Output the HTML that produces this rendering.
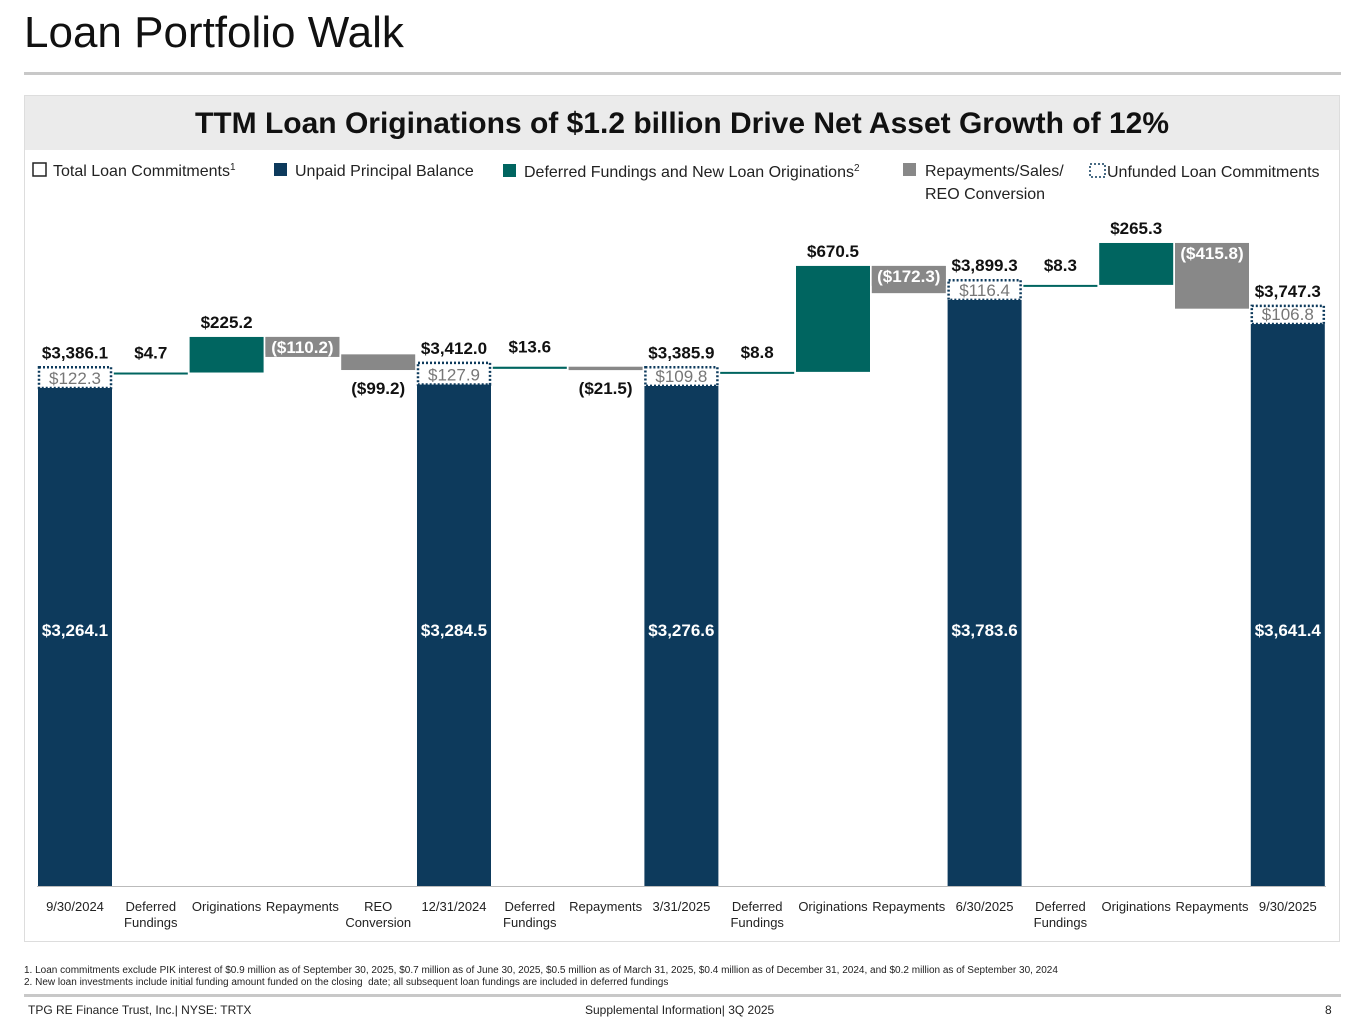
<!DOCTYPE html>
<html><head><meta charset="utf-8">
<style>
body{margin:0;width:1365px;height:1024px;background:#fff;font-family:"Liberation Sans Narrow","Liberation Sans",sans-serif;position:relative;overflow:hidden}
.t{position:absolute;white-space:nowrap}
</style></head><body>
<div class="t" style="left:24px;top:8px;font-size:44px;color:#111;font-family:'Liberation Sans',sans-serif">Loan Portfolio Walk</div>
<div style="position:absolute;left:24px;top:72px;width:1317px;height:3px;background:#c8c8c8"></div>
<div style="position:absolute;left:24px;top:95px;width:1316px;height:847px;border:1px solid #ddd;box-sizing:border-box"></div>
<div style="position:absolute;left:25px;top:96px;width:1314px;height:54px;background:#ebebeb;text-align:center;line-height:56px;font-size:30px;font-weight:bold;color:#111;font-family:'Liberation Sans',sans-serif">TTM Loan Originations of $1.2 billion Drive Net Asset Growth of 12%</div>
<svg width="1365" height="1024" style="position:absolute;left:0;top:0" id="chart" font-family="Liberation Sans Narrow, Liberation Sans, sans-serif">
 <g font-size="16" fill="#222">
  <g><rect x="33" y="163" width="13" height="13" fill="#fff" stroke="#222" stroke-width="1.5"/><text x="53" y="176">Total Loan Commitments<tspan font-size="10" dy="-6">1</tspan></text></g>
  <g><rect x="274" y="163" width="13" height="13" fill="#0d3a5c"/><text x="295" y="176">Unpaid Principal Balance</text></g>
  <g><rect x="503" y="164" width="13" height="13" fill="#006560"/><text x="524" y="177">Deferred Fundings and New Loan Originations<tspan font-size="10" dy="-6">2</tspan></text></g>
  <g><rect x="903" y="163" width="13" height="13" fill="#888"/><text x="925" y="176">Repayments/Sales/</text><text x="925" y="199">REO Conversion</text></g>
  <g><rect x="1090" y="164" width="15" height="13" fill="#fff" stroke="#0d3a5c" stroke-width="1.5" stroke-dasharray="2,2"/><text x="1107" y="177">Unfunded Loan Commitments</text></g>
 </g>
 <line x1="37" y1="886.5" x2="1326" y2="886.5" stroke="#bbb" stroke-width="1"/>
 <g id="marks"></g>
</svg>
<div class="t" style="left:24px;top:965px;font-size:10px;color:#222">1. Loan commitments exclude PIK interest of $0.9 million as of September 30, 2025, $0.7 million as of June 30, 2025, $0.5 million as of March 31, 2025, $0.4 million as of December 31, 2024, and $0.2 million as of September 30, 2024</div>
<div class="t" style="left:24px;top:977px;font-size:10px;color:#222">2. New loan investments include initial funding amount funded on the closing &nbsp;date; all subsequent loan fundings are included in deferred fundings</div>
<div style="position:absolute;left:24px;top:994px;width:1317px;height:3px;background:#c8c8c8"></div>
<div class="t" style="left:28px;top:1003px;font-size:12px;color:#222">TPG RE Finance Trust, Inc.| NYSE: TRTX</div>
<div class="t" style="left:585px;top:1003px;font-size:12px;color:#222">Supplemental Information| 3Q 2025</div>
<div class="t" style="left:1325px;top:1003px;font-size:12px;color:#222">8</div>
<script>
const categories=["9/30/2024","Deferred|Fundings","Originations","Repayments","REO|Conversion","12/31/2024","Deferred|Fundings","Repayments","3/31/2025","Deferred|Fundings","Originations","Repayments","6/30/2025","Deferred|Fundings","Originations","Repayments","9/30/2025"];
const kinds=["total","inc","inc","dec","dec","total","inc","dec","total","inc","inc","dec","total","inc","inc","dec","total"];
const upbValues=[3264.1,null,null,null,null,3284.5,null,null,3276.6,null,null,null,3783.6,null,null,null,3641.4];
const unfundedValues=[122.3,null,null,null,null,127.9,null,null,109.8,null,null,null,116.4,null,null,null,106.8];
const totalValues=[3386.1,null,null,null,null,3412.0,null,null,3385.9,null,null,null,3899.3,null,null,null,3747.3];
const changeValues=[null,4.7,225.2,-110.2,-99.2,null,13.6,-21.5,null,8.8,670.5,-172.3,null,8.3,265.3,-415.8,null];
const changeLabelPos=[null,"above","above","inside","below",null,"above","below",null,"above","above","inside",null,"above","above","inside",null];
const svg=document.getElementById('marks');const NS="http://www.w3.org/2000/svg";
const baseY=886,k=0.1695,vmin=326,kf=0.158;
function y(v){return baseY-(v-vmin)*k;}
function x(i){return 75+i*75.8;}
const bw=74;
function el(t,a,p){const e=document.createElementNS(NS,t);for(const n in a)e.setAttribute(n,a[n]);(p||svg).appendChild(e);return e;}
function fmt(v){const s="$"+Math.abs(v).toLocaleString('en-US',{minimumFractionDigits:1,maximumFractionDigits:1});return v<0?"("+s+")":s;}
let cur=0;
categories.forEach((c,i)=>{
 const cx=x(i);
 const lines=c.split("|");
 lines.forEach((l,j)=>{const t=el('text',{x:cx,y:911+j*16,'text-anchor':'middle','font-size':13,fill:'#222'});
  
  
  t.textContent=l;});
 if(kinds[i]==="total"){
  const u=upbValues[i],f=unfundedValues[i],tot=totalValues[i];cur=y(u+f)+6;
  const r=el('rect',{x:cx-bw/2,y:y(u),width:bw,height:baseY-y(u),fill:'#0d3a5c'});
  
  
  const b=el('rect',{x:cx-bw/2+1,y:y(u+f),width:bw-2,height:y(u)-y(u+f),fill:'#fff',stroke:'#0d3a5c','stroke-width':2.5,'stroke-dasharray':'2,2'});
  
  
  const t1=el('text',{x:cx,y:636,'text-anchor':'middle','font-size':17,'font-weight':'bold',fill:'#fff'});
  
  
  t1.textContent=fmt(u);
  const t2=el('text',{x:cx,y:y(u)-4,'text-anchor':'middle','font-size':17,fill:'#777'});
  
  
  t2.textContent=fmt(f);
  const t3=el('text',{x:cx,y:y(u+f)-9,'text-anchor':'middle','font-size':17,'font-weight':'bold',fill:'#111'});
  
  
  t3.textContent=fmt(tot);
 }else{
  const v=changeValues[i];const a=cur,b2=cur-v*kf;cur=b2;
  const top=Math.min(a,b2),bot=Math.max(a,b2);
  const col=v>0?'#006560':'#888';
  const r=el('rect',{x:cx-bw/2,y:top,width:bw,height:Math.max(2,bot-top),fill:col});
  
  
  const pos=changeLabelPos[i];
  let ty=top-9,fill='#111';
  if(pos==="below"){ty=bot+24;}
  if(pos==="inside"){ty=top+16;fill='#fff';
   const bg=el('rect',{x:cx-bw/2,y:top,width:bw,height:20,fill:'#888'});
   
   }
  if(pos==="above"&&Math.abs(v)<20)ty=top-14;
  const t=el('text',{x:cx,y:ty,'text-anchor':'middle','font-size':17,'font-weight':'bold',fill:fill});
  
  
  t.textContent=fmt(v);
 }
});
</script>
</body></html>
